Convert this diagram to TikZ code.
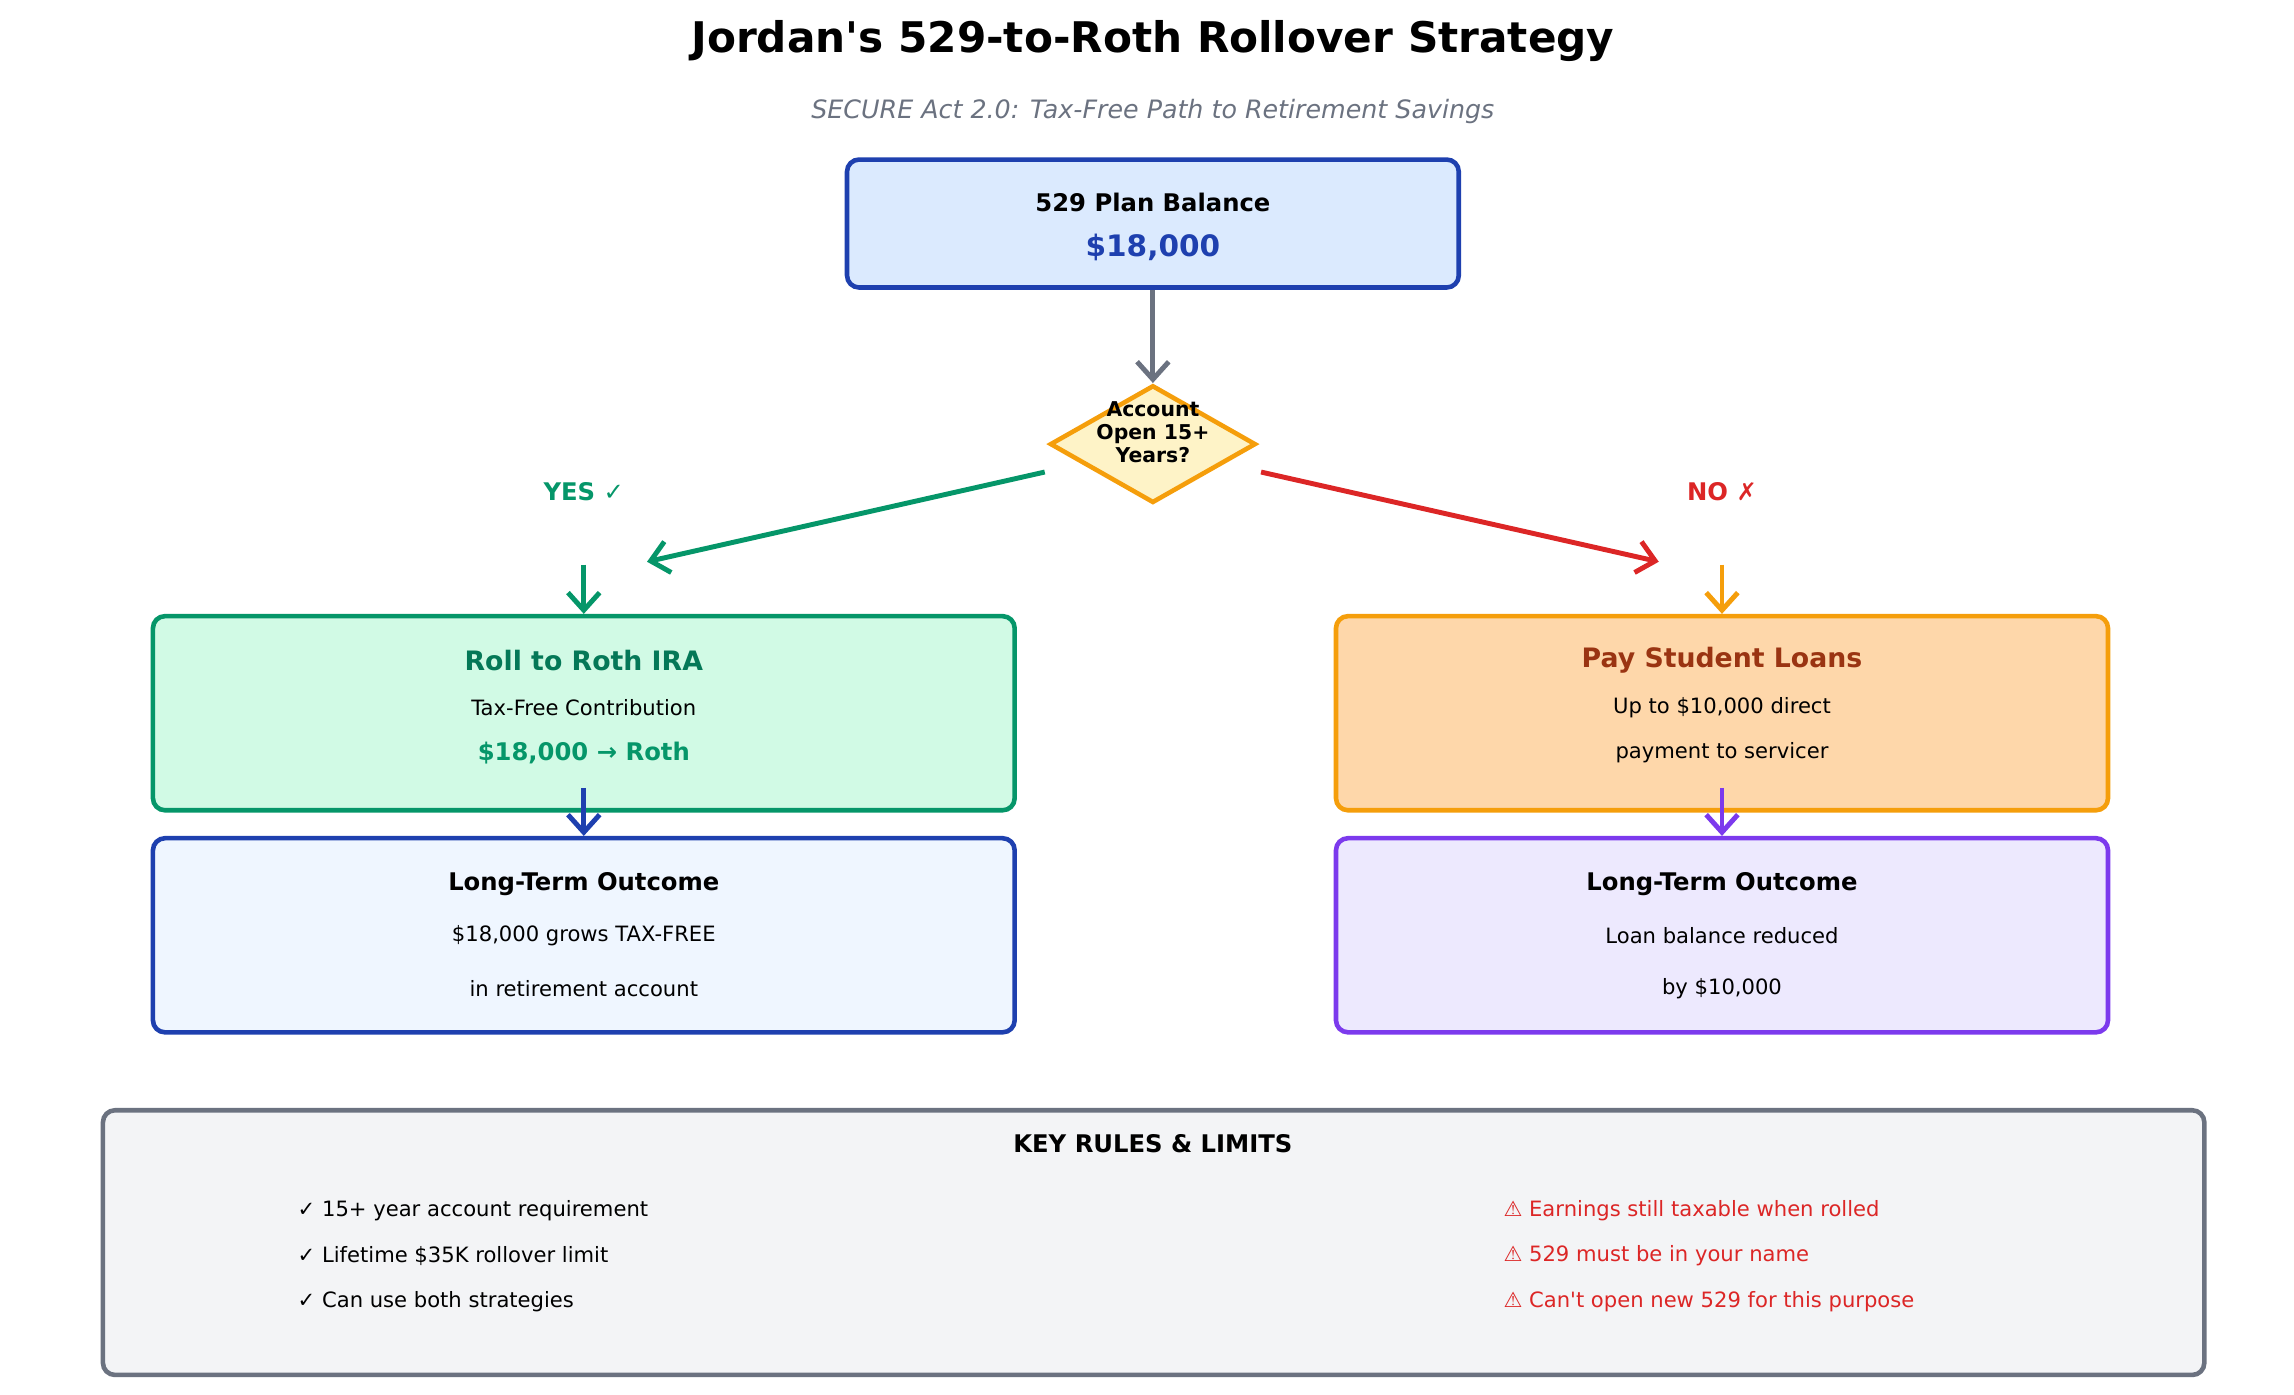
\documentclass[tikz,border=0pt]{standalone}
\usepackage{fontspec}
\setmainfont{DejaVu Sans}
\usetikzlibrary{shapes.geometric,arrows.meta,positioning}
\definecolor{cblue}{HTML}{1E40AF}
\definecolor{cgreen}{HTML}{059669}
\definecolor{cdgreen}{HTML}{047857}
\definecolor{corange}{HTML}{F59E0B}
\definecolor{cred}{HTML}{DC2626}
\definecolor{cgray}{HTML}{6B7280}
\definecolor{cpurple}{HTML}{7C3AED}
\definecolor{cbrown}{HTML}{9A3412}
\definecolor{fblue}{HTML}{DBEAFE}
\definecolor{fgreen}{HTML}{D1FAE5}
\definecolor{forange}{HTML}{FED7AA}
\definecolor{fyellow}{HTML}{FEF3C7}
\definecolor{fpale}{HTML}{EFF6FF}
\definecolor{fpurple}{HTML}{EDE9FE}
\definecolor{fgray}{HTML}{F3F4F6}
\begin{document}
\begin{tikzpicture}[x=0.0147cm, y=-0.0147cm,
   box_style/.style={draw, line width=1.3pt, rounded corners=0.12cm, inner sep=0pt},
   arrow_style/.style={-{Straight Barb[length=5pt,width=9pt]}, line width=1.4pt},
   body_text/.style={font=\fontsize{6}{7}\selectfont},
   head_text/.style={font=\fontsize{6.9}{8}\selectfont\bfseries}]

    \useasboundingbox (0,0) rectangle (1560,948);

    \node[font=\fontsize{12}{14}\selectfont\bfseries] (title) at (784,28) {Jordan\textquotesingle s 529-to-Roth Rollover Strategy};
    \node[font=\fontsize{7.2}{9}\selectfont\itshape, text=cgray] (sub) at (784,76) {SECURE Act 2.0: Tax-Free Path to Retirement Savings};

    % top box and decision
    \node[box_style, draw=cblue, fill=fblue, minimum width=416*0.0147cm, minimum height=87*0.0147cm] (bal) at (784,152) {};
    \node[head_text] at (784,138) {529 Plan Balance};
    \node[font=\fontsize{8.4}{10}\selectfont\bfseries, text=cblue] at (784,168) {\$18,000};
    \node[diamond, draw=corange, fill=fyellow, line width=1.3pt, minimum width=140*0.0147cm, minimum height=80*0.0147cm, inner sep=0pt] (dec) at (784,302) {};
    \node[font=\fontsize{5.8}{6.6}\selectfont\bfseries, align=center] at (784,294) {Account\\Open 15+\\Years?};
    \draw[arrow_style, cgray] (bal) -- (dec);

    \coordinate (yesend) at (440,382);
    \coordinate (noend) at (1128,382);
    \draw[arrow_style, cgreen] ([shift={(-2,19)}]dec.west) -- (yesend);
    \draw[arrow_style, cred] ([shift={(2,19)}]dec.east) -- (noend);
    \node[head_text, text=cgreen] (yes) at (397,334) {YES ✓};
    \node[head_text, text=cred] (no) at (1171,334) {NO ✗};

    % second row
    \node[box_style, draw=cgreen, fill=fgreen, minimum width=586*0.0147cm, minimum height=132*0.0147cm] (roth) at (397,485) {};
    \node[font=\fontsize{7.6}{9}\selectfont\bfseries, text=cdgreen] at (397,449) {Roll to Roth IRA};
    \node[body_text] at (397,481) {Tax-Free Contribution};
    \node[font=\fontsize{6.9}{8}\selectfont\bfseries, text=cgreen] at (397,512) {\$18,000 → Roth};
    \node[box_style, draw=corange, fill=forange, minimum width=525*0.0147cm, minimum height=132*0.0147cm] (loan) at (1171,485) {};
    \node[font=\fontsize{7.6}{9}\selectfont\bfseries, text=cbrown] at (1171,449) {Pay Student Loans};
    \node[body_text] at (1171,481) {Up to \$10,000 direct};
    \node[body_text] at (1171,512) {payment to servicer};
    \coordinate (yestop) at (397,384);
    \coordinate (notop) at (1171,384);
    \draw[arrow_style, cgreen] (yestop) -- (roth.north);
    \draw[arrow_style, corange] (notop) -- (loan.north);

    % outcomes
    \node[box_style, draw=cblue, fill=fpale, minimum width=586*0.0147cm, minimum height=132*0.0147cm] (lout) at (397,636) {};
    \node[head_text] at (397,601) {Long-Term Outcome};
    \node[body_text] at (397,636) {\$18,000 grows TAX-FREE};
    \node[body_text] at (397,672) {in retirement account};
    \node[box_style, draw=cpurple, fill=fpurple, minimum width=525*0.0147cm, minimum height=132*0.0147cm] (rout) at (1171,636) {};
    \node[head_text] at (1171,601) {Long-Term Outcome};
    \node[body_text] at (1171,636) {Loan balance reduced};
    \node[body_text] at (1171,672) {by \$10,000};
    \draw[arrow_style, cblue] ([yshift=7]roth.south) -- (lout.north);
    \draw[arrow_style, cpurple] ([yshift=7]loan.south) -- (rout.north);

    % rules
    \node[box_style, draw=cgray, fill=fgray, minimum width=1429*0.0147cm, minimum height=180*0.0147cm] (rules) at (784.5,845) {};
    \node[head_text] at (784,778) {KEY RULES \& LIMITS};
    \foreach \t [count=\i] in {✓ 15+ year account requirement, ✓ Lifetime \$35K rollover limit, ✓ Can use both strategies}
        \node[body_text, anchor=west] at (194,792+31*\i) {\t};
    \foreach \t [count=\i] in {⚠ Earnings still taxable when rolled, ⚠ 529 must be in your name, ⚠ Can\textquotesingle t open new 529 for this purpose}
        \node[body_text, anchor=west, text=cred] at (1014,792+31*\i) {\t};
\end{tikzpicture}
\end{document}
